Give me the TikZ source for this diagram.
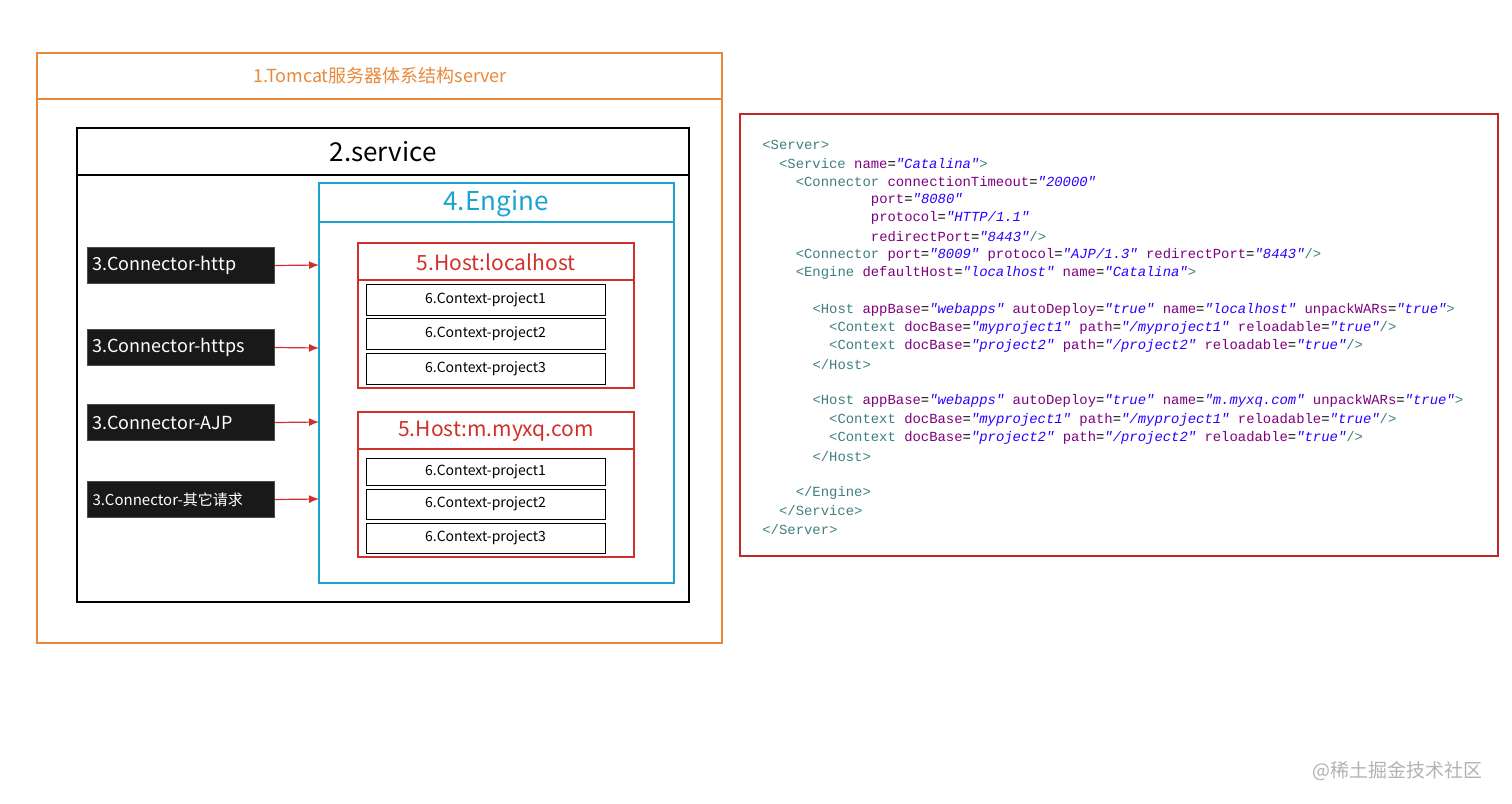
\documentclass[tikz,border=0pt]{standalone}
\usepackage{fontspec}
\setmainfont{Noto Sans CJK SC}
\newfontfamily\codefont{Liberation Mono}
\begin{document}
\definecolor{org}{HTML}{E8883A}
\definecolor{cyn}{HTML}{1AA3D0}
\definecolor{rd}{HTML}{D0302A}
\definecolor{dred}{HTML}{C0282A}
\definecolor{tgc}{HTML}{3F7F7F}
\definecolor{atc}{HTML}{7F007F}
\definecolor{vlc}{HTML}{2A00FF}
\newcommand{\tg}[1]{\textcolor{tgc}{#1}}
\newcommand{\at}[1]{\textcolor{atc}{#1}}
\newcommand{\vl}[1]{\textcolor{vlc}{\itshape"#1"}}
\begin{tikzpicture}[x=0.5pt,y=-0.5pt,
  ctx/.style={draw=black,line width=0.5pt,fill=white,minimum width=119.5pt,minimum height=15.5pt,inner sep=0pt,font=\fontsize{7}{8}\selectfont},
  con/.style={fill=black!90,draw=black!70,line width=0.5pt,text=white,text width=88.5pt,align=left,inner xsep=2.5pt,inner ysep=0pt,minimum height=18pt,font=\fontsize{9}{10}\selectfont,anchor=north west},
  arr/.style={draw=rd,line width=0.6pt,-{Latex[length=5pt,width=4pt]}},
  code/.style={anchor=west,inner sep=0pt,font=\codefont\fontsize{6.95}{8}\selectfont}]
\usetikzlibrary{arrows.meta}
\useasboundingbox (0,0) rectangle (1512,804);
% outer
\draw[org,line width=0.6pt] (37,53) rectangle (722,643);
\draw[org,line width=0.6pt] (37,99) -- (722,99);
\node[text=org,font=\fontsize{9}{10}\selectfont] (t1) at (380,76) {1.Tomcat服务器体系结构server};
% service
\draw[black,line width=0.6pt] (77,128) rectangle (689,602);
\draw[black,line width=0.6pt] (77,175) -- (689,175);
\node[font=\fontsize{13}{14}\selectfont] (t2) at (383,152) {2.service};
% engine
\draw[cyn,line width=0.6pt] (319,183) rectangle (674,583);
\draw[cyn,line width=0.6pt] (319,222) -- (674,222);
\node[text=cyn,font=\fontsize{13}{14}\selectfont] (t4) at (496,204) {4.Engine};
\coordinate (e1) at (319,265);
\coordinate (e2) at (319,348);
\coordinate (e3) at (319,422);
\coordinate (e4) at (319,499);
% host1
\draw[rd,line width=0.6pt] (358,243) rectangle (634,388);
\draw[rd,line width=0.6pt] (358,280) -- (634,280);
\node[text=rd,font=\fontsize{10.5}{12}\selectfont] (h1) at (496,262) {5.Host:localhost};
\node[ctx] (a1) at (485.5,299.5) {6.Context-project1};
\node[ctx] (a2) at (485.5,333.5) {6.Context-project2};
\node[ctx] (a3) at (485.5,368.5) {6.Context-project3};
% host2
\draw[rd,line width=0.6pt] (358,412) rectangle (634,557);
\draw[rd,line width=0.6pt] (358,449) -- (634,449);
\node[text=rd,font=\fontsize{10.5}{12}\selectfont] (h2) at (496,431) {5.Host:m.myxq.com};
\node[ctx,minimum height=13.5pt] (b1) at (485.5,471.5) {6.Context-project1};
\node[ctx,minimum height=15pt] (b2) at (485.5,504) {6.Context-project2};
\node[ctx,minimum height=15pt] (b3) at (485.5,538) {6.Context-project3};
% connectors
\node[con] (k1) at (87,247) {3.Connector-http};
\node[con] (k2) at (87,329) {3.Connector-https};
\node[con] (k3) at (87,404) {3.Connector-AJP};
\node[con,font=\fontsize{7.5}{9}\selectfont] (k4) at (87,481) {3.Connector-其它请求};
\draw[arr] (k1.east) -- (e1);
\draw[arr] (k2.east) -- (e2);
\draw[arr] (k3.east) -- (e3);
\draw[arr] (k4.east) -- (e4);
% code box
\draw[dred,line width=1pt] (740,114) rectangle (1498,556);
\def\cw{8.35}
\node[code] (c1) at (762,145) {\tg{<Server>}};
\node[code] (c2) at (762+2*\cw,163.3) {\tg{<Service} \at{name}=\vl{Catalina}\tg{>}};
\node[code] (c3) at (762+4*\cw,181.6) {\tg{<Connector} \at{connectionTimeout}=\vl{20000}};
\node[code] (c4) at (762+13*\cw,199.9) {\at{port}=\vl{8080}};
\node[code] (c5) at (762+13*\cw,218.2) {\at{protocol}=\vl{HTTP/1.1}};
\node[code] (c6) at (762+13*\cw,236.5) {\at{redirectPort}=\vl{8443}\tg{/>}};
\node[code] (c7) at (762+4*\cw,254.8) {\tg{<Connector} \at{port}=\vl{8009} \at{protocol}=\vl{AJP/1.3} \at{redirectPort}=\vl{8443}\tg{/>}};
\node[code] (c8) at (762+4*\cw,273.1) {\tg{<Engine} \at{defaultHost}=\vl{localhost} \at{name}=\vl{Catalina}\tg{>}};
\node[code] (c10) at (762+6*\cw,309.7) {\tg{<Host} \at{appBase}=\vl{webapps} \at{autoDeploy}=\vl{true} \at{name}=\vl{localhost} \at{unpackWARs}=\vl{true}\tg{>}};
\node[code] (c11) at (762+8*\cw,328) {\tg{<Context} \at{docBase}=\vl{myproject1} \at{path}=\vl{/myproject1} \at{reloadable}=\vl{true}\tg{/>}};
\node[code] (c12) at (762+8*\cw,346.3) {\tg{<Context} \at{docBase}=\vl{project2} \at{path}=\vl{/project2} \at{reloadable}=\vl{true}\tg{/>}};
\node[code] (c13) at (762+6*\cw,364.6) {\tg{</Host>}};
\node[code] (c15) at (762+6*\cw,401.2) {\tg{<Host} \at{appBase}=\vl{webapps} \at{autoDeploy}=\vl{true} \at{name}=\vl{m.myxq.com} \at{unpackWARs}=\vl{true}\tg{>}};
\node[code] (c16) at (762+8*\cw,419.5) {\tg{<Context} \at{docBase}=\vl{myproject1} \at{path}=\vl{/myproject1} \at{reloadable}=\vl{true}\tg{/>}};
\node[code] (c17) at (762+8*\cw,437.8) {\tg{<Context} \at{docBase}=\vl{project2} \at{path}=\vl{/project2} \at{reloadable}=\vl{true}\tg{/>}};
\node[code] (c18) at (762+6*\cw,456.1) {\tg{</Host>}};
\node[code] (c20) at (762+4*\cw,492.7) {\tg{</Engine>}};
\node[code] (c21) at (762+2*\cw,511) {\tg{</Service>}};
\node[code] (c22) at (762,529.3) {\tg{</Server>}};
% watermark
\node[text=black!30,font=\fontsize{9.5}{10}\selectfont,anchor=east] (wm) at (1490,771) {@稀土掘金技术社区};
\end{tikzpicture}
\end{document}
